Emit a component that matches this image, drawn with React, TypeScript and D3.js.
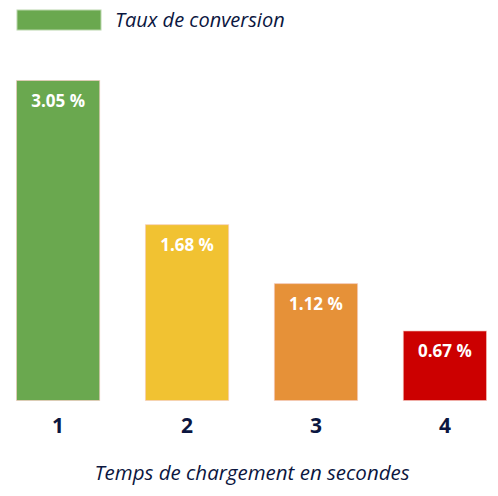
import { useEffect, useRef } from 'react';
import * as d3 from 'd3';

const CATEGORIES = ['1', '2', '3', '4'];
const RATES = [3.05, 1.68, 1.12, 0.67];
const COLORS = ['#6aa84f', '#f1c232', '#e69138', '#cc0000'];
const SERIES_NAME = 'Taux de conversion';
const X_TITLE = 'Temps de chargement en secondes';

const FONT = "'Open Sans', Lato, sans-serif";
const INK = '#0b1640';

export default function App() {
  const svgRef = useRef<SVGSVGElement>(null);

  useEffect(() => {
    const el = svgRef.current;
    if (!el) return;
    const svg = d3.select(el);
    svg.selectAll('*').remove();

    const W = 498;
    const H = 496;
    const base = 401;

    const x = d3.scaleBand().domain(CATEGORIES).range([16, 487]).paddingInner(0.347).paddingOuter(0);
    const y = d3.scaleLinear().domain([0, 3.05]).range([base, 80]);

    // legend
    svg.append('rect')
      .attr('x', 17).attr('y', 10).attr('width', 84).attr('height', 20)
      .attr('fill', COLORS[0]).attr('stroke', '#b9d6ab').attr('stroke-width', 1);
    svg.append('text')
      .attr('x', 115).attr('y', 27)
      .attr('font-family', FONT).attr('font-style', 'italic').attr('font-size', '20px')
      .attr('fill', INK).text(SERIES_NAME);

    // bars
    const data = CATEGORIES.map((c, i) => ({ c, v: RATES[i], color: COLORS[i] }));
    svg.append('g').selectAll('rect').data(data).join('rect')
      .attr('x', (d) => (x(d.c) || 0) + 0.5)
      .attr('y', (d) => y(d.v) + 0.5)
      .attr('width', x.bandwidth() - 1)
      .attr('height', (d) => base - y(d.v) - 1)
      .attr('fill', (d) => d.color)
      .attr('stroke', '#f5c9c0')
      .attr('stroke-opacity', 0.6)
      .attr('stroke-width', 1);

    // value labels
    svg.append('g').selectAll('text').data(data).join('text')
      .attr('x', (d) => (x(d.c) || 0) + x.bandwidth() / 2)
      .attr('y', (d) => y(d.v) + 27)
      .attr('text-anchor', 'middle')
      .attr('font-family', FONT).attr('font-weight', '700').attr('font-size', '17px')
      .attr('fill', '#ffffff')
      .text((d) => `${d.v.toFixed(2)} %`);

    // x axis
    const ax = svg.append('g').attr('transform', `translate(0,${base})`)
      .call(d3.axisBottom(x).tickSize(0).tickPadding(0));
    ax.select('.domain').remove();
    ax.selectAll('text')
      .attr('y', 32).attr('dy', null)
      .attr('font-family', FONT).attr('font-weight', '700').attr('font-size', '21px')
      .attr('fill', INK);

    svg.append('text')
      .attr('x', 252).attr('y', 480)
      .attr('text-anchor', 'middle')
      .attr('font-family', FONT).attr('font-style', 'italic').attr('font-size', '20.5px')
      .attr('fill', INK).text(X_TITLE);

    svg.attr('width', W).attr('height', H);
  }, []);

  return (
    <div style={{ position: 'absolute', left: 0, top: 0 }}>
      <svg ref={svgRef} style={{ display: 'block', background: '#ffffff' }} />
    </div>
  );
}
